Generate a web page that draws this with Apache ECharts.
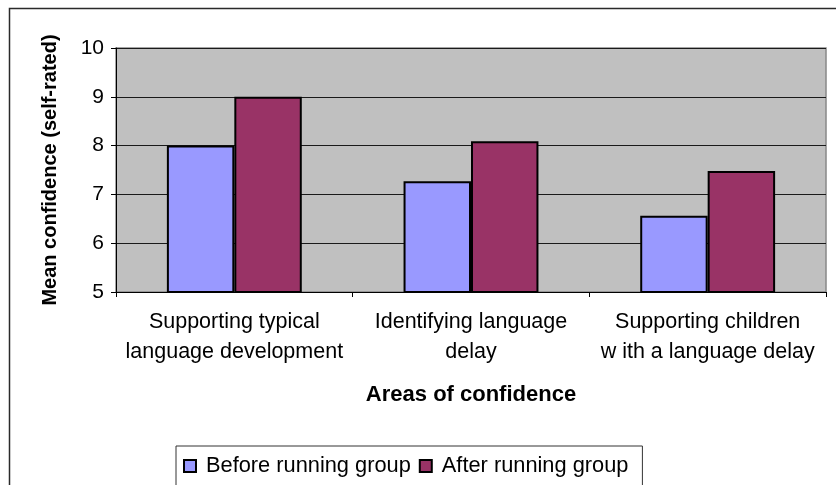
<!DOCTYPE html>
<html lang="en" style="height: 100%">
<head>
  <meta charset="utf-8">
</head>
<body style="height: 100%; margin: 0; background: #fff">
  <div id="container" style="width: 836px; height: 485px"></div>

  <script type="text/javascript" src="https://cdn.jsdelivr.net/npm/echarts@6/dist/echarts.min.js"></script>

  <script type="text/javascript">
    var categories = [
      'Supporting typical\nlanguage development',
      'Identifying language\ndelay',
      'Supporting children\nw ith a language delay'
    ];
    var beforeValues = [8.0, 7.27, 6.56];
    var afterValues = [9.0, 8.09, 7.48];
    var seriesNames = ['Before running group', 'After running group'];

    var dom = document.getElementById('container');
    var myChart = echarts.init(dom, null, { renderer: 'canvas' });
    var font = 'Liberation Sans, Arial, sans-serif';

    var option = {
      animation: false,
      textStyle: { fontFamily: font, color: '#000' },
      graphic: [
        {
          type: 'rect',
          shape: { x: 9.5, y: 8.5, width: 900, height: 600 },
          style: { fill: 'none', stroke: '#2a2a2a', lineWidth: 1.5 },
          silent: true
        }
      ],
      grid: {
        left: 116,
        top: 48,
        right: 10,
        bottom: 193,
        show: true,
        backgroundColor: '#c0c0c0',
        borderColor: '#888',
        borderWidth: 1.5
      },
      legend: {
        left: 176,
        top: 446,
        padding: [9, 14, 30, 7],
        itemWidth: 12,
        itemHeight: 12,
        itemGap: 8,
        borderColor: '#333',
        borderWidth: 1,
        icon: 'rect',
        textStyle: { fontFamily: font, fontSize: 21.8, color: '#000', padding: [0, 0, 0, 5] },
        data: seriesNames
      },
      xAxis: {
        type: 'category',
        data: categories,
        name: 'Areas of confidence',
        nameLocation: 'middle',
        nameGap: 92,
        nameTextStyle: { fontFamily: font, fontSize: 22, fontWeight: 'bold', color: '#000' },
        axisLine: { lineStyle: { color: '#000', width: 1 } },
        axisTick: { show: true, length: 5, lineStyle: { color: '#000' } },
        axisLabel: { interval: 0, fontFamily: font, fontSize: 21.5, color: '#000', lineHeight: 30, margin: 15 }
      },
      yAxis: {
        type: 'value',
        min: 5,
        max: 10,
        interval: 1,
        name: 'Mean confidence (self-rated)',
        nameLocation: 'middle',
        nameRotate: 90,
        nameGap: 56,
        nameTextStyle: { fontFamily: font, fontSize: 20, fontWeight: 'bold', color: '#000' },
        axisLine: { show: true, lineStyle: { color: '#000', width: 1 } },
        axisTick: { show: true, length: 5, lineStyle: { color: '#000' } },
        axisLabel: { fontFamily: font, fontSize: 21, color: '#000', margin: 12 },
        splitLine: { lineStyle: { color: '#1a1a1a', width: 1 } }
      },
      series: [
        {
          name: seriesNames[0],
          type: 'bar',
          data: beforeValues,
          barGap: '0%',
          barCategoryGap: '43%',
          itemStyle: { color: '#9999ff', borderColor: '#000', borderWidth: 2 }
        },
        {
          name: seriesNames[1],
          type: 'bar',
          data: afterValues,
          itemStyle: { color: '#993366', borderColor: '#000', borderWidth: 2 }
        }
      ]
    };

    myChart.setOption(option);
    window.addEventListener('resize', myChart.resize);
  </script>
</body>
</html>
